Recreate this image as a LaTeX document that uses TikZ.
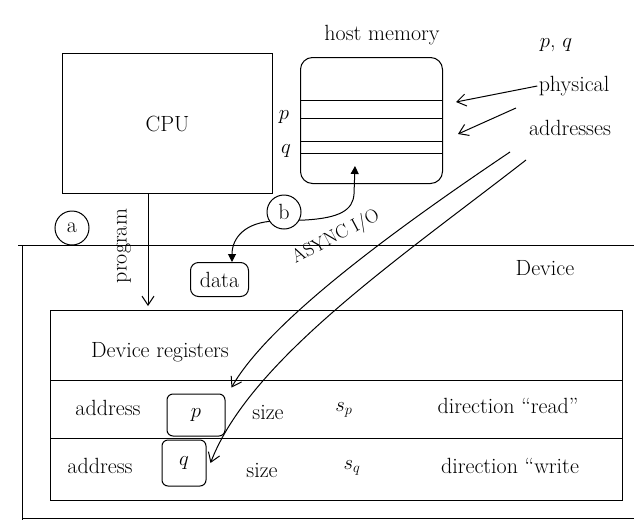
\documentclass[tikz,border=0pt]{standalone}
\usetikzlibrary{arrows.meta}
\begin{document}
\begin{tikzpicture}[x=1pt,y=-1pt,line width=1pt,
  font=\fontsize{22}{26}\selectfont,
  lbl/.style={inner sep=1pt},
  box/.style={draw,inner sep=0pt},
  circ/.style={draw,circle,inner sep=0pt,minimum size=34pt},
  arr/.style={-{Straight Barb[length=9pt,width=12pt]}},
  darr/.style={{Triangle[length=8pt,width=8pt]}-{Triangle[length=8pt,width=8pt]}}]
\useasboundingbox (0,0) rectangle (634,525);

% CPU and host memory
\node[box,minimum width=210pt,minimum height=140pt,anchor=north west] (cpu) at (62,53) {CPU};
\node[box,rounded corners=12pt,minimum width=142pt,minimum height=126pt,anchor=north west] (mem) at (300,57) {};
\node[lbl] (hostmem) at (382,35) {host memory};
\draw (300,100) -- (442,100);
\draw (300,118) -- (442,118);
\draw (300,141) -- (442,141);
\draw (300,153) -- (442,153);
\node[lbl] (plab) at (284,117) {$p$};
\node[lbl] (qlab) at (286,151) {$q$};

% physical addresses
\node[lbl] (pq) at (556,45) {$p$, $q$};
\node[lbl] (phys) at (574,86) {physical};
\node[lbl] (addrs) at (570,128) {addresses};
\coordinate (tip1) at (456,102);
\coordinate (tip2) at (458,134);
\coordinate (from2) at (516,108);
\draw[arr] (phys.west) -- (tip1);
\draw[arr] (from2) -- (tip2);

% device frame
\draw (18,245) -- (634,245);
\draw (22,245) -- (22,520);
\draw (22,518) -- (634,518);
\node[lbl] (device) at (545,268) {Device};

% program arrow
\coordinate (progstart) at (148,193);
\coordinate (progend) at (148,306);
\draw[arr] (progstart) -- (progend);
\node[lbl,rotate=90] (program) at (124,246) {program};
\node[circ] (a) at (72,228) {a};

% data and async I/O
\node[box,rounded corners=8pt,minimum width=58pt,minimum height=34pt,anchor=north west] (data) at (190,262) {data};
\coordinate (memtip) at (355,166);
\draw[darr] (232,262) .. controls (232,238) and (245,222) .. (275,221)
  -- (305,220) .. controls (340,218) and (353,210) .. (354,194) -- (memtip);
\node[circ,fill=white] (b) at (284,212) {b};
\node[lbl,rotate=28,font=\fontsize{19}{23}\selectfont] (async) at (336,237) {ASYNC I/O};

% device registers
\node[box,minimum width=572pt,minimum height=190pt,anchor=north west] (regs) at (50,310) {};
\draw (50,380) -- (622,380);
\draw (50,438) -- (622,438);
\node[lbl] (devreg) at (160,352) {Device registers};
\node[lbl] (addr1) at (108,408) {address};
\node[box,rounded corners=6pt,minimum width=58pt,minimum height=42pt] (pbox) at (196,415) {$p$};
\node[lbl] (size1) at (268,412) {size};
\node[lbl] (sp) at (344,410) {$s_p$};
\node[lbl] (dir1) at (508,406) {direction ``read''};
\node[lbl] (addr2) at (100,466) {address};
\node[box,rounded corners=6pt,minimum width=44pt,minimum height=46pt] (qbox) at (184,463) {$q$};
\node[lbl] (size2) at (262,470) {size};
\node[lbl] (sq) at (352,468) {$s_q$};
\node[lbl] (dir2) at (510,466) {direction ``write};

% long arrows from physical addresses to registers
\coordinate (ls1) at (510,152);
\coordinate (ls2) at (526,160);
\draw[arr] (ls1) .. controls (400,226) and (270,320) .. ([shift={(6pt,6pt)}]pbox.north east);
\draw[arr] (ls2) .. controls (400,258) and (250,360) .. ([xshift=4pt]qbox.east);
\end{tikzpicture}
\end{document}
